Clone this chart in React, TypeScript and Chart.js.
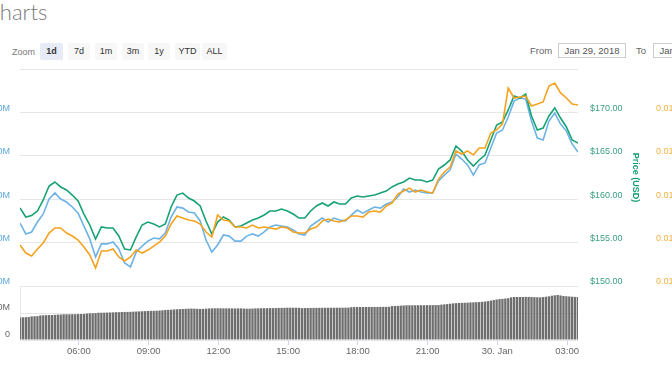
import React, { useEffect, useRef } from 'react';
import { Chart, registerables } from 'chart.js';

Chart.register(...registerables);

const FONT = "'Liberation Sans', Arial, sans-serif";

// time axis: hours since Jan 29 00:00
const START_HOUR = 3.47;
const END_HOUR = 27.47;
const LINE_STEP = 0.25; // 15 min
const VOL_STEP = 0.125; // 7.5 min

const priceUsd = [
  158.99, 157.95, 158.12, 158.64, 159.91, 161.52, 161.98, 161.41, 161.06, 160.48,
  159.79, 158.29, 157.03, 155.41, 156.80, 156.68, 156.68, 155.76, 154.26, 154.15,
  155.65, 157.03, 157.37, 157.14, 156.80, 157.14, 159.10, 160.48, 160.71, 160.14,
  159.79, 159.22, 157.49, 155.99, 157.37, 157.95, 157.60, 156.80, 156.91, 157.26,
  157.60, 157.83, 158.18, 158.64, 158.64, 158.87, 158.64, 158.29, 157.83, 157.83,
  158.64, 159.22, 159.56, 159.22, 159.68, 159.45, 159.45, 160.14, 160.37, 160.25,
  160.37, 160.48, 160.71, 160.94, 161.41, 161.75, 161.98, 162.44, 162.21, 162.21,
  161.98, 162.21, 163.48, 163.94, 164.52, 166.13, 165.55, 164.52, 163.82, 164.52,
  165.09, 166.82, 168.55, 168.89, 170.28, 171.89, 171.66, 172.12, 169.59, 167.97,
  168.20, 169.59, 170.51, 169.35, 168.32, 166.82, 166.47,
];

// market cap, millions USD
const marketCap = [
  8490, 8440, 8449, 8495, 8532, 8601, 8629, 8601, 8587, 8564,
  8536, 8476, 8417, 8334, 8394, 8394, 8403, 8371, 8306, 8288,
  8357, 8384, 8407, 8421, 8417, 8444, 8518, 8564, 8559, 8541,
  8536, 8500, 8412, 8357, 8389, 8435, 8430, 8407, 8407, 8430,
  8440, 8430, 8449, 8472, 8481, 8476, 8472, 8458, 8440, 8435,
  8476, 8495, 8513, 8495, 8513, 8504, 8500, 8527, 8550, 8536,
  8550, 8564, 8559, 8578, 8587, 8610, 8647, 8633, 8642, 8633,
  8629, 8629, 8684, 8711, 8735, 8808, 8785, 8758, 8711, 8758,
  8767, 8836, 8905, 8919, 8979, 9052, 9066, 9062, 8960, 8882,
  8873, 8960, 8997, 8946, 8914, 8854, 8817,
];

const priceBtc = [
  0.014736, 0.014690, 0.014673, 0.014713, 0.014748, 0.014805, 0.014834, 0.014834, 0.014805, 0.014788,
  0.014765, 0.014725, 0.014679, 0.014604, 0.014702, 0.014702, 0.014713, 0.014667, 0.014644, 0.014667,
  0.014707, 0.014690, 0.014707, 0.014730, 0.014753, 0.014788, 0.014857, 0.014903, 0.014892, 0.014880,
  0.014874, 0.014857, 0.014811, 0.014782, 0.014909, 0.014880, 0.014874, 0.014840, 0.014840, 0.014834,
  0.014851, 0.014834, 0.014840, 0.014834, 0.014828, 0.014840, 0.014834, 0.014811, 0.014805, 0.014805,
  0.014828, 0.014840, 0.014874, 0.014886, 0.014874, 0.014869, 0.014880, 0.014903, 0.014903, 0.014897,
  0.014926, 0.014932, 0.014926, 0.014961, 0.014978, 0.015030, 0.015047, 0.015064, 0.015041, 0.015053,
  0.015041, 0.015036, 0.015116, 0.015157, 0.015185, 0.015278, 0.015260, 0.015278, 0.015255, 0.015295,
  0.015295, 0.015381, 0.015399, 0.015433, 0.015640, 0.015583, 0.015589, 0.015594, 0.015537, 0.015548,
  0.015560, 0.015652, 0.015669, 0.015612, 0.015583, 0.015548, 0.015543,
];

// 24h volume, millions USD
const volume24h = [
  418, 420, 422, 425,
  438, 440, 442,
  455, 458, 460, 462, 462, 466,
  470, 472, 476, 476, 476, 478, 478,
  480, 480, 482, 490, 494,
  495, 498, 505, 505, 506,
  508, 510, 512, 515, 515, 518, 520, 520,
  522, 525, 528, 530, 532, 535, 538, 540, 540, 543, 545,
  550, 555, 558, 562, 566, 569, 572,
  575, 578, 580, 582, 580, 578,
  575, 576, 580, 584, 586, 588,
  588, 587, 586, 586, 586, 585, 584, 585, 586, 582, 580, 580, 582, 585, 586,
  588, 588, 590, 590, 590, 592, 594, 595, 596, 598, 598, 598, 598, 596,
  590, 592, 593, 594, 595, 595, 596, 596, 597, 597, 597, 598, 598, 598, 598, 599, 600,
  608, 610, 610, 611, 611, 611, 612, 612, 612, 612, 613, 613, 614, 615,
  628, 630, 632, 636, 640, 643, 643,
  643, 644, 644, 644, 644, 645, 645, 646, 646, 648,
  655, 660, 665, 672, 678, 682,
  685, 688, 690, 692, 695, 698, 700, 702,
  708, 712, 720, 730, 740, 750, 758,
  762, 768, 775, 790, 796,
  796, 797, 797, 798, 798, 796, 794, 792,
  790, 795, 802, 809,
  820, 828, 833, 825, 815,
  810, 806, 802, 798, 796,
];

const xTickValues = [6, 9, 12, 15, 18, 21, 24, 27];
const xTickLabels = ['06:00', '09:00', '12:00', '15:00', '18:00', '21:00', '30. Jan', '03:00'];
const priceTicks = [150, 155, 160, 165, 170, 175];
const mcapTicks = [8200, 8400, 8600, 8800, 9000, 9200];
const btcTicks = [0.0145, 0.01475, 0.015, 0.01525, 0.0155, 0.01575];
const volumeTicks = [0, 500, 1000];

const zoomButtons = ['1d', '7d', '1m', '3m', '1y', 'YTD', 'ALL'];
const fromDate = 'Jan 29, 2018';
const toDate = 'Jan 30, 2018';

const GREEN = '#17a176';
const BLUE = '#6db3e6';
const ORANGE = '#f5a31f';
const GRID = '#e6e6e6';

const toPoints = (arr: number[], step: number) => arr.map((v, i) => ({ x: START_HOUR + i * step, y: v }));

const fixWidth = (w: number) => (s: any) => {
  s.width = w;
  s.paddingTop = 0;
  s.paddingBottom = 0;
};

export default function App() {
  const mainRef = useRef<HTMLCanvasElement>(null);
  const volRef = useRef<HTMLCanvasElement>(null);

  useEffect(() => {
    const tickFont = { family: FONT, size: 9 };
    const main = new Chart(mainRef.current!, {
      type: 'line',
      data: {
        datasets: [
          { label: 'Price (BTC)', data: toPoints(priceBtc, LINE_STEP), yAxisID: 'yBtc', borderColor: ORANGE, borderWidth: 1.6 },
          { label: 'Price (USD)', data: toPoints(priceUsd, LINE_STEP), yAxisID: 'yPrice', borderColor: GREEN, borderWidth: 1.6 },
          { label: 'Market Cap', data: toPoints(marketCap, LINE_STEP), yAxisID: 'yMcap', borderColor: BLUE, borderWidth: 1.6 },
        ],
      },
      options: {
        responsive: false,
        animation: false,
        devicePixelRatio: 1,
        layout: { padding: { top: 5, bottom: 4, left: 0, right: 0 } },
        plugins: { legend: { display: false }, tooltip: { enabled: false } },
        elements: { point: { radius: 0 }, line: { tension: 0, fill: false } },
        scales: {
          x: { type: 'linear', min: START_HOUR, max: END_HOUR, display: false },
          yMcap: {
            type: 'linear', position: 'left', min: 8200, max: 9200,
            afterBuildTicks: (s: any) => { s.ticks = mcapTicks.map((v) => ({ value: v })); },
            afterFit: fixWidth(80),
            grid: { color: GRID, drawTicks: false },
            border: { display: false },
            ticks: {
              padding: 10, color: '#5aa6dc', font: tickFont, labelOffset: -4,
              callback: (v: any) => (v === 9200 ? '' : '$' + Number(v).toLocaleString('en-US') + 'M'),
            },
          },
          yPrice: {
            type: 'linear', position: 'right', min: 150, max: 175,
            afterBuildTicks: (s: any) => { s.ticks = priceTicks.map((v) => ({ value: v })); },
            afterFit: fixWidth(68),
            grid: { drawOnChartArea: false, drawTicks: false },
            border: { display: false },
            ticks: {
              padding: 12, color: '#3a9e84', font: tickFont, labelOffset: -4,
              callback: (v: any) => (v === 175 ? '' : '$' + Number(v).toFixed(2)),
            },
            title: {
              display: true, text: 'Price (USD)', color: GREEN,
              font: { family: FONT, size: 9, weight: 'bold' }, padding: { top: 5, bottom: 0 },
            },
          },
          yBtc: {
            type: 'linear', position: 'right', min: 0.0145, max: 0.01575,
            afterBuildTicks: (s: any) => { s.ticks = btcTicks.map((v) => ({ value: v })); },
            afterFit: fixWidth(94),
            grid: { drawOnChartArea: false, drawTicks: false },
            border: { display: false },
            ticks: {
              padding: 10, color: '#f2b13f', font: tickFont, labelOffset: -4,
              callback: (v: any) => (Math.abs(v - 0.01575) < 1e-9 ? '' : Number(v).toFixed(5)),
            },
          },
        },
      } as any,
    });

    const vol = new Chart(volRef.current!, {
      type: 'bar',
      data: {
        datasets: [
          {
            label: 'Volume (24h)', data: toPoints(volume24h, VOL_STEP), backgroundColor: '#6e6e6e',
            barPercentage: 0.8, categoryPercentage: 1.0,
          },
        ],
      },
      options: {
        responsive: false,
        animation: false,
        devicePixelRatio: 1,
        layout: { padding: { top: 4, bottom: 0, left: 0, right: 162 } },
        plugins: { legend: { display: false }, tooltip: { enabled: false } },
        scales: {
          x: {
            type: 'linear', min: START_HOUR, max: END_HOUR, offset: false,
            afterBuildTicks: (s: any) => { s.ticks = xTickValues.map((v) => ({ value: v })); },
            afterFit: (s: any) => { s.height = 20; s.paddingLeft = 0; s.paddingRight = 0; },
            grid: { offset: false, drawOnChartArea: false, drawTicks: true, tickLength: 5, color: '#ccd6eb' },
            border: { display: false },
            ticks: {
              padding: 1, color: '#666666', font: { family: FONT, size: 9.5 }, maxRotation: 0, autoSkip: false,
              callback: (v: any) => xTickLabels[xTickValues.indexOf(Number(v))] ?? '',
            },
          },
          y: {
            type: 'linear', position: 'left', min: 0, max: 1000,
            afterBuildTicks: (s: any) => { s.ticks = volumeTicks.map((v) => ({ value: v })); },
            afterFit: fixWidth(80),
            grid: { color: GRID, drawTicks: false },
            border: { display: true, color: GRID },
            ticks: {
              padding: 10, color: '#666666', font: tickFont, labelOffset: -5,
              callback: (v: any) => (v === 1000 ? '' : v === 0 ? '0' : Number(v).toLocaleString('en-US') + 'M'),
            },
          },
        },
      } as any,
    });

    return () => {
      main.destroy();
      vol.destroy();
    };
  }, []);

  const btnLefts = [40, 68, 95, 122, 148, 175, 202];
  const btnWidths = [23, 22, 22, 22, 22, 25, 25];

  return (
    <div style={{ position: 'fixed', left: 0, top: 0, width: 672, height: 372, overflow: 'hidden', background: '#fff', fontFamily: FONT }}>
      <div style={{ position: 'absolute', left: -15, top: -2, fontSize: 22, fontFamily: 'Lato, sans-serif', fontWeight: 300, color: '#7a7a7a', whiteSpace: 'nowrap' }}>Charts</div>
      <div style={{ position: 'absolute', left: 12, top: 45, fontSize: 9, color: '#777', lineHeight: '14px' }}>Zoom</div>
      {zoomButtons.map((b, i) => (
        <div key={b} style={{
          position: 'absolute', left: btnLefts[i], top: 43, width: btnWidths[i], height: 17, lineHeight: '17px',
          textAlign: 'center', fontSize: 9, color: '#333', background: i === 0 ? '#e6ebf5' : '#f7f7f7',
          fontWeight: i === 0 ? 'bold' : 'normal', borderRadius: 2,
        }}>{b}</div>
      ))}
      <div style={{ position: 'absolute', left: 530, top: 44, fontSize: 9.5, color: '#666', lineHeight: '14px' }}>From</div>
      <div style={{ position: 'absolute', left: 558, top: 43, width: 68, height: 15, border: '1px solid #ccc', boxSizing: 'border-box', fontSize: 9.5, color: '#555', lineHeight: '13px', textAlign: 'center' }}>{fromDate}</div>
      <div style={{ position: 'absolute', left: 636, top: 44, fontSize: 9.5, color: '#666', lineHeight: '14px' }}>To</div>
      <div style={{ position: 'absolute', left: 653, top: 43, width: 68, height: 15, border: '1px solid #ccc', boxSizing: 'border-box', fontSize: 9.5, color: '#555', lineHeight: '13px', textAlign: 'center' }}>{toDate}</div>
      <canvas ref={mainRef} width={800} height={226} style={{ position: 'absolute', left: -60, top: 64, width: 800, height: 226 }} />
      <canvas ref={volRef} width={800} height={78} style={{ position: 'absolute', left: -60, top: 282, width: 800, height: 78 }} />
    </div>
  );
}
